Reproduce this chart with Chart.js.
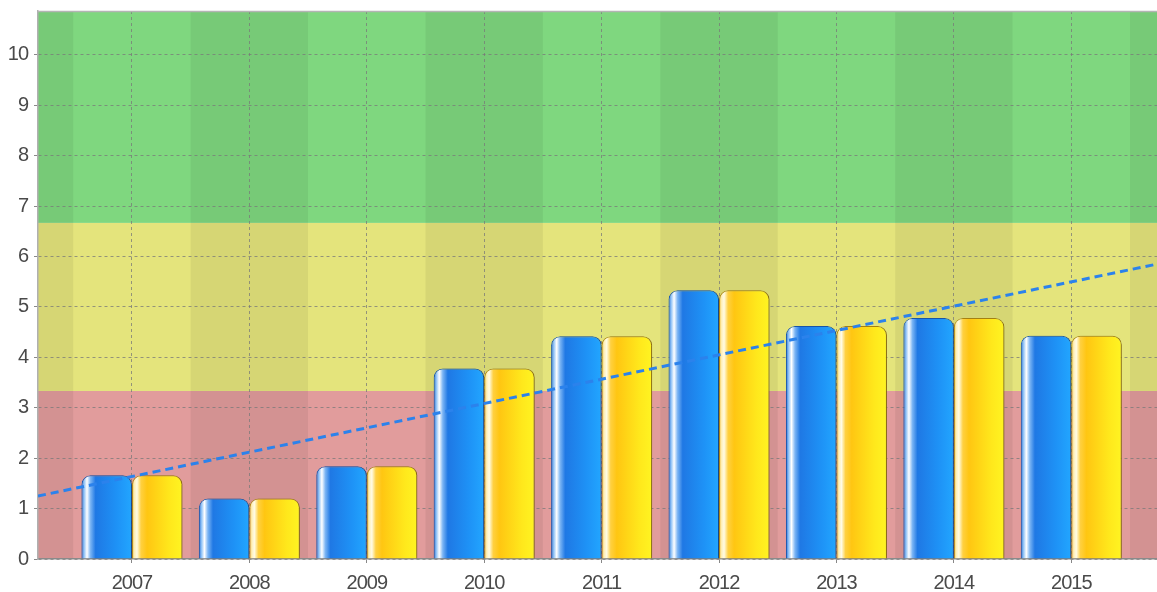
<!DOCTYPE html>
<html>
<head>
<meta charset="utf-8">
<script src="https://cdn.jsdelivr.net/npm/chart.js@4/dist/chart.umd.min.js"></script>
<style>
  html, body { margin: 0; padding: 0; background: #ffffff; }
  #wrap { width: 1157px; height: 592px; position: relative; }
</style>
</head>
<body>
<div id="wrap"><canvas id="c" width="1157" height="592"></canvas></div>
<script>
// ---- data ----
const years = [2007, 2008, 2009, 2010, 2011, 2012, 2013, 2014, 2015];
const seriesBlue = [1.66, 1.20, 1.84, 3.78, 4.42, 5.33, 4.62, 4.78, 4.43];
const seriesYellow = [1.66, 1.20, 1.84, 3.78, 4.42, 5.33, 4.62, 4.78, 4.43];
const trendX = [2006.2, 2015.73];
const trendY = [1.25, 5.85];
const yTicks = [0, 1, 2, 3, 4, 5, 6, 7, 8, 9, 10];
const xRange = [2006.2, 2015.73];
const yRange = [0, 10.87];
const bandEdges = [0, 3.333, 6.667, 10.87];
const bandColors = ['#e19c9c', '#e4e47c', '#7fd77f'];
const darkColumns = [2006, 2008, 2010, 2012, 2014, 2016];

const CAT_PCT = 0.86;
const FONT = "'Liberation Sans', Arial, sans-serif";

function barGeom(chart, i, dsIndex) {
  const xs = chart.scales.x;
  const c = xs.getPixelForValue(years[i]);
  const sp = xs.getPixelForValue(years[1]) - xs.getPixelForValue(years[0]);
  const g = sp * CAT_PCT;
  const L = dsIndex === 0 ? c - g / 2 : c;
  return [L, L + g / 2];
}

function blueFill(ctx) {
  const chart = ctx.chart;
  if (!chart.chartArea || ctx.dataIndex === undefined) return '#1e8cf0';
  const [L, R] = barGeom(chart, ctx.dataIndex, 0);
  const gr = chart.ctx.createLinearGradient(L, 0, R, 0);
  gr.addColorStop(0.0, '#2a6fd0');
  gr.addColorStop(0.05, '#8cc0f6');
  gr.addColorStop(0.11, '#ffffff');
  gr.addColorStop(0.18, '#7ab4f4');
  gr.addColorStop(0.28, '#1f78e4');
  gr.addColorStop(0.7, '#1e92f6');
  gr.addColorStop(1.0, '#22a6ff');
  return gr;
}
function yellowFill(ctx) {
  const chart = ctx.chart;
  if (!chart.chartArea || ctx.dataIndex === undefined) return '#ffd81a';
  const [L, R] = barGeom(chart, ctx.dataIndex, 1);
  const gr = chart.ctx.createLinearGradient(L, 0, R, 0);
  gr.addColorStop(0.0, '#f0c040');
  gr.addColorStop(0.05, '#fff0b8');
  gr.addColorStop(0.10, '#fffbe6');
  gr.addColorStop(0.18, '#ffd040');
  gr.addColorStop(0.3, '#ffc612');
  gr.addColorStop(0.75, '#ffe81c');
  gr.addColorStop(1.0, '#fff422');
  return gr;
}

const bgPlugin = {
  id: 'bands',
  beforeDraw(chart) {
    const { ctx, chartArea: a, scales: { x, y } } = chart;
    ctx.letterSpacing = '-1px';
    ctx.save();
    for (let b = 0; b < bandColors.length; b++) {
      const top = y.getPixelForValue(bandEdges[b + 1]);
      const bot = y.getPixelForValue(bandEdges[b]);
      ctx.fillStyle = bandColors[b];
      ctx.fillRect(a.left, top, a.right - a.left, bot - top);
    }
    ctx.beginPath();
    ctx.rect(a.left, a.top, a.right - a.left, a.bottom - a.top);
    ctx.clip();
    ctx.fillStyle = 'rgba(0,0,0,0.058)';
    darkColumns.forEach(v => {
      const l = x.getPixelForValue(v - 0.5);
      const r = x.getPixelForValue(v + 0.5);
      ctx.fillRect(l, a.top, r - l, a.bottom - a.top);
    });
    ctx.restore();
  },
  afterDraw(chart) {
    const { ctx, chartArea: a } = chart;
    ctx.save();
    ctx.strokeStyle = '#b4b4b4';
    ctx.lineWidth = 1.5;
    ctx.beginPath();
    ctx.moveTo(a.left, a.top + 0.5);
    ctx.lineTo(a.right, a.top + 0.5);
    ctx.stroke();
    ctx.restore();
  },
  beforeDatasetDraw(chart, args) {
    if (chart.data.datasets[args.index].type === 'line') return;
    const ctx = chart.ctx;
    ctx.save();
    ctx.shadowColor = 'rgba(0,0,0,0.35)';
    ctx.shadowBlur = 4;
    ctx.shadowOffsetX = 2;
    ctx.shadowOffsetY = 1;
  },
  afterDatasetDraw(chart, args) {
    if (chart.data.datasets[args.index].type === 'line') return;
    chart.ctx.restore();
  }
};

new Chart(document.getElementById('c'), {
  type: 'bar',
  data: {
    datasets: [
      {
        type: 'bar',
        data: years.map((v, i) => ({ x: v, y: seriesBlue[i] })),
        backgroundColor: blueFill,
        borderColor: '#1a5cb8',
        borderWidth: 1,
        borderRadius: 9,
        borderSkipped: 'start',
        categoryPercentage: CAT_PCT,
        barPercentage: 1.0,
        order: 1
      },
      {
        type: 'bar',
        data: years.map((v, i) => ({ x: v, y: seriesYellow[i] })),
        backgroundColor: yellowFill,
        borderColor: '#b48c14',
        borderWidth: 1,
        borderRadius: 9,
        borderSkipped: 'start',
        categoryPercentage: CAT_PCT,
        barPercentage: 1.0,
        order: 1
      },
      {
        type: 'line',
        data: trendX.map((v, i) => ({ x: v, y: trendY[i] })),
        borderColor: '#2b82ec',
        borderWidth: 3,
        borderDash: [8, 5],
        pointRadius: 0,
        fill: false,
        order: 0
      }
    ]
  },
  options: {
    responsive: false,
    animation: false,
    layout: { padding: { top: 11, right: 0, left: 0, bottom: 0 } },
    plugins: { legend: { display: false }, tooltip: { enabled: false } },
    scales: {
      x: {
        type: 'linear',
        offset: false,
        min: xRange[0],
        max: xRange[1],
        afterBuildTicks: s => { s.ticks = years.map(v => ({ value: v })); },
        afterFit: s => { s.height = 33; s.paddingLeft = 0; s.paddingRight = 0; },
        ticks: {
          callback: v => String(v),
          color: '#4a4a4a',
          font: { family: FONT, size: 20 },
          padding: 8,
          maxRotation: 0,
          autoSkip: false
        },
        grid: {
          offset: false,
          color: 'rgba(120,120,120,0.75)',
          lineWidth: 1,
          tickLength: 4,
          tickColor: '#888888',
          drawOnChartArea: true
        },
        border: { display: true, color: '#8a8a8a', width: 1.5, dash: [3, 3] }
      },
      y: {
        min: yRange[0],
        max: yRange[1],
        afterBuildTicks: s => { s.ticks = yTicks.map(v => ({ value: v })); },
        afterFit: s => { s.width = 38; s.paddingTop = 0; s.paddingBottom = 0; },
        ticks: {
          color: '#4a4a4a',
          font: { family: FONT, size: 20 },
          padding: 6
        },
        grid: {
          color: 'rgba(120,120,120,0.75)',
          lineWidth: 1,
          tickLength: 4,
          tickColor: '#888888'
        },
        border: { display: true, color: '#b0b0b0', width: 1.5, dash: [3, 3] }
      }
    }
  },
  plugins: [bgPlugin]
});
</script>
</body>
</html>
